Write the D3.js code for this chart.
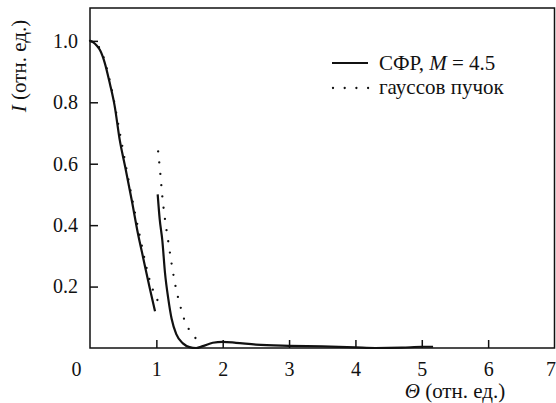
<!DOCTYPE html>
<html><head><meta charset="utf-8">
<script src="https://cdn.jsdelivr.net/npm/d3@7"></script>
<style>
body{margin:0;background:#fff;}
#c text{font-family:"Times New Roman",Times,"Liberation Serif",Tinos,"DejaVu Serif","Noto Serif",serif !important;}
</style></head>
<body><svg id="c" width="556" height="403"></svg>
<script>
// Data
const xTicks = [0,1,2,3,4,5,6,7];
const yTicks = [0.2,0.4,0.6,0.8,1.0];
const sfrSeg1 = [[0,1.0],[0.05,0.995],[0.1,0.985],[0.15,0.97],[0.22,0.93],[0.3,0.86],[0.37,0.79],[0.45,0.675],[0.53,0.59],[0.63,0.48],[0.72,0.375],[0.8,0.295],[0.9,0.195],[0.98,0.12]];
const sfrSeg2 = [[1.02,0.50],[1.05,0.42],[1.09,0.35],[1.13,0.245],[1.18,0.16],[1.23,0.095],[1.3,0.045],[1.4,0.015],[1.5,0.003],[1.6,0.0],[1.7,0.006],[1.85,0.017],[2.0,0.02],[2.2,0.017],[2.5,0.011],[3.0,0.007],[3.5,0.005],[4.0,0.002],[4.3,0.0],[4.7,0.001],[5.0,0.004],[5.17,0.004]];
const gaussSeg1 = [[0,1.0],[0.15,0.975],[0.3,0.87],[0.45,0.70],[0.6,0.525],[0.75,0.365],[0.9,0.22],[1.03,0.15]];
const gaussSeg2 = [[1.027,0.64],[1.06,0.567],[1.09,0.493],[1.13,0.419],[1.18,0.346],[1.23,0.274],[1.29,0.20],[1.37,0.129],[1.42,0.093],[1.49,0.061],[1.6,0.03]];
const legendLabels = ["СФР, ", "гауссов пучок"];

const svg = d3.select("#c");
const L=90, R=554.5, T=8, B=348;
const x = d3.scaleLinear().domain([0,7]).range([L,R]);
const y = d3.scaleLinear().domain([0,1.107]).range([B,T]);

const fs = 20, fsL = 21;
svg.append("rect").attr("x",L).attr("y",T).attr("width",R-L).attr("height",B-T)
  .attr("fill","none").attr("stroke","#111").attr("stroke-width",1.5);

const xa = svg.append("g").attr("transform",`translate(0,${B})`)
  .call(d3.axisBottom(x).tickValues(xTicks).tickSize(-8).tickPadding(14).tickFormat(d3.format("d")));
xa.attr("font-family",null);
xa.select(".domain").remove();
xa.selectAll(".tick line").attr("stroke","#111").attr("stroke-width",1.5)
  .attr("display",d=> (d===0||d===7)?"none":null);
xa.selectAll(".tick text").attr("font-size",fs).attr("fill","#111")
  .attr("dx",d=> d===0? -14 : (d===7? -4:0));

const ya = svg.append("g").attr("transform",`translate(${L},0)`)
  .call(d3.axisLeft(y).tickValues(yTicks).tickSize(-8).tickPadding(12).tickFormat(d3.format(".1f")));
ya.attr("font-family",null);
ya.select(".domain").remove();
ya.selectAll(".tick line").attr("stroke","#111").attr("stroke-width",1.5);
ya.selectAll(".tick text").attr("font-size",fs).attr("fill","#111");

const line = d3.line().x(d=>x(d[0])).y(d=>y(d[1])).curve(d3.curveMonotoneX);
[sfrSeg1,sfrSeg2].forEach(s=>svg.append("path").attr("d",line(s)).attr("fill","none")
  .attr("stroke","#111").attr("stroke-width",2.2));
[gaussSeg1,gaussSeg2].forEach(s=>svg.append("path").attr("d",line(s)).attr("fill","none")
  .attr("stroke","#111").attr("stroke-width",2.3).attr("stroke-linecap","round").attr("stroke-dasharray","0,11.3"));

// legend
svg.append("line").attr("x1",332).attr("x2",368).attr("y1",63).attr("y2",63).attr("stroke","#111").attr("stroke-width",2.2);
svg.append("line").attr("x1",333).attr("x2",369).attr("y1",88).attr("y2",88).attr("stroke","#111").attr("stroke-width",2.3)
  .attr("stroke-linecap","round").attr("stroke-dasharray","0,11.7");
const t1 = svg.append("text").attr("x",379).attr("y",70).attr("font-size",fsL).attr("fill","#111");
t1.append("tspan").text(legendLabels[0]);
t1.append("tspan").attr("font-style","italic").text("M");
t1.append("tspan").text(" = 4.5");
svg.append("text").attr("x",379).attr("y",94).attr("font-size",fsL).attr("fill","#111").text(legendLabels[1]);

// axis titles
const xt = svg.append("text").attr("x",455).attr("y",398).attr("text-anchor","middle").attr("font-size",fsL).attr("fill","#111");
xt.append("tspan").attr("font-style","italic").text("Θ");
xt.append("tspan").text(" (отн. ед.)");
const yt = svg.append("text").attr("transform","translate(26,66) rotate(-90)").attr("text-anchor","middle").attr("font-size",fsL).attr("fill","#111");
yt.append("tspan").attr("font-style","italic").text("I");
yt.append("tspan").text(" (отн. ед.)");
</script></body></html>
